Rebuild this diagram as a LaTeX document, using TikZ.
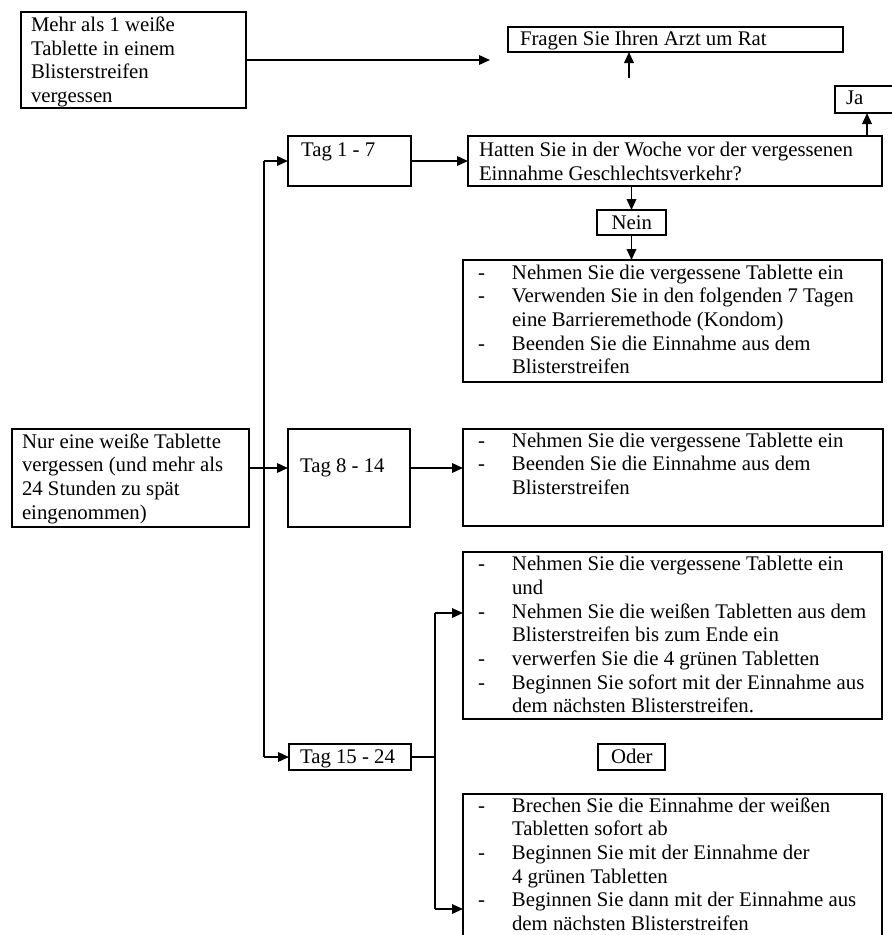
\documentclass[tikz,border=0pt]{standalone}
\usepackage{fontspec}
\setmainfont{Liberation Serif}
\usetikzlibrary{arrows.meta}
% name, x, y, w, h, pad, first-baseline offset, lines
\newcommand\bx[8]{%
  \node[boxst, anchor=north west] (#1) at (#2,#3)
    {\parbox[c][#5pt][t]{#4pt}{\rule{0pt}{#7pt}\hspace*{#6pt}\begin{tabular}[t]{@{}l@{}}#8\end{tabular}}};}
\newcommand\dl[1]{\makebox[34pt][l]{-}#1}
\newcommand\cl[1]{\hspace*{34pt}#1}
\tikzset{
  boxst/.style={draw=black, line width=1.4pt, inner sep=0pt, outer sep=0pt,
    font=\fontsize{20.8}{23.7}\selectfont, text=black},
  conn/.style={line width=1.9pt},
  arr/.style={conn, -{Triangle[length=11pt,width=9.5pt]}}
}
\begin{document}
\begin{tikzpicture}[x=1pt,y=-1pt]
\fill[white] (0,0) rectangle (892,935);
\useasboundingbox (0,0) rectangle (892,935);

\bx{A}{21}{12}{225}{96}{10}{19.5}{Mehr als 1 weiße\\Tablette in einem\\Blisterstreifen\\vergessen}
\bx{F}{508}{27}{335}{25}{12}{18}{Fragen Sie Ihren Arzt um Rat}
\bx{Ja}{835}{86}{70}{27}{11}{18}{Ja}
\bx{T1}{288}{136}{123}{50}{13}{20}{Tag 1 - 7}
\bx{H}{468}{136}{414}{50}{11}{20.5}{Hatten Sie in der Woche vor der vergessenen\\Einnahme Geschlechtsverkehr?}
\bx{N}{597}{210}{69}{25}{14.5}{19.5}{Nein}
\bx{B1}{463}{260}{419}{122}{15}{19}{\dl{Nehmen Sie die vergessene Tablette ein}\\\dl{Verwenden Sie in den folgenden 7 Tagen}\\\cl{eine Barrieremethode (Kondom)}\\\dl{Beenden Sie die Einnahme aus dem}\\\cl{Blisterstreifen}}
\bx{L}{12}{429}{237}{98}{10}{19}{Nur eine weiße Tablette\\vergessen (und mehr als\\24 Stunden zu spät\\eingenommen)}
\bx{T2}{288}{429}{122}{98}{12}{43}{Tag 8 - 14}
\bx{B2}{463}{429}{420}{97}{15}{18}{\dl{Nehmen Sie die vergessene Tablette ein}\\\dl{Beenden Sie die Einnahme aus dem}\\\cl{Blisterstreifen}}
\bx{B3}{463}{552}{419}{167}{15}{18.6}{\dl{Nehmen Sie die vergessene Tablette ein}\\\cl{und}\\\dl{Nehmen Sie die weißen Tabletten aus dem}\\\cl{Blisterstreifen bis zum Ende ein}\\\dl{verwerfen Sie die 4 grünen Tabletten}\\\dl{Beginnen Sie sofort mit der Einnahme aus}\\\cl{dem nächsten Blisterstreifen.}}
\bx{T3}{289}{744}{122}{26}{11}{19}{Tag 15 - 24}
\bx{O}{598}{744}{67}{26}{13}{19}{Oder}
\bx{B4}{463}{794}{419}{151}{15}{18}{\dl{Brechen Sie die Einnahme der weißen}\\\cl{Tabletten sofort ab}\\\dl{Beginnen Sie mit der Einnahme der}\\\cl{4 grünen Tabletten}\\\dl{Beginnen Sie dann mit der Einnahme aus}\\\cl{dem nächsten Blisterstreifen}}

% helper coordinates
\coordinate (fr) at (490,60);
\coordinate (upt) at (629,78);
\coordinate (jx) at (867,0);
\coordinate (trunk) at (264,0);
\coordinate (r2) at (0,468);
\coordinate (br) at (435,0);
\coordinate (b3y) at (0,613);
\coordinate (b4y) at (0,909);

% connectors
\draw[arr] (A.east) -- (fr);
\draw[arr] (upt) -- (upt |- F.south);
\draw[arr] (H.north -| jx) -- (Ja.south -| jx);
\draw[arr] (T1.east) -- (H.west);
\draw[arr] (H.south -| N.north) -- (N.north);
\draw[arr] (N.south) -- (N.south |- B1.north);
\draw[conn] (trunk |- T1.west) -- (trunk |- T3.west);
\draw[arr] (trunk |- T1.west) -- (T1.west);
\draw[arr] (trunk |- T3.west) -- (T3.west);
\draw[arr] (L.east |- r2) -- (T2.west |- r2);
\draw[arr] (T2.east |- r2) -- (B2.west |- r2);
\draw[conn] (T3.east) -- (br |- T3.east);
\draw[conn] (br |- b3y) -- (br |- b4y);
\draw[arr] (br |- b3y) -- (B3.west |- b3y);
\draw[arr] (br |- b4y) -- (B4.west |- b4y);
\end{tikzpicture}
\end{document}
